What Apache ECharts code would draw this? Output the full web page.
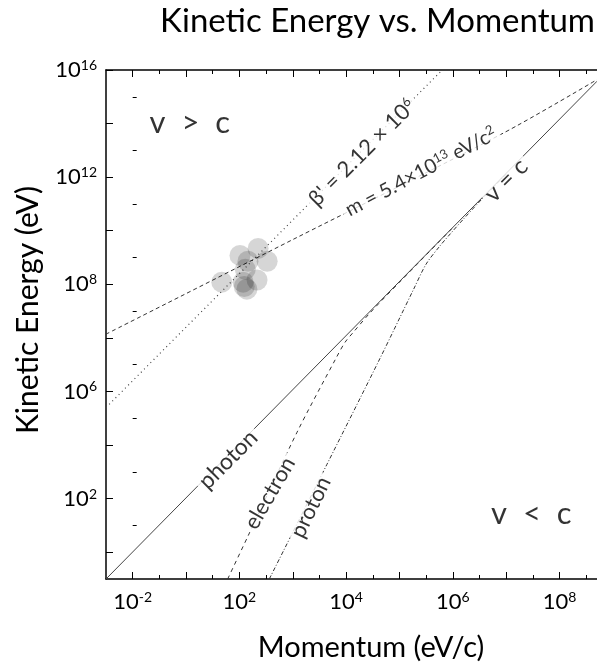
<!DOCTYPE html>
<html><head><meta charset="utf-8">
<script src="https://cdn.jsdelivr.net/npm/echarts@6/dist/echarts.min.js"></script>
<style>html,body{margin:0;padding:0;background:#fff}#c{width:597px;height:665px}</style>
</head><body><div id="c"></div>
<script>
// All coordinates are decades (log10) as drawn on the reference axes
const xTickValues = [0, 2, 4, 6, 8];
const xTickExps = ['-2', '2', '4', '6', '8'];
const yTickValues = [12, 10, 8, 6, 4];
const yTickExps = ['16', '12', '8', '6', '2'];
const xMajorTicks = [0, 1, 2, 3, 4, 5, 6, 7, 8];
const xMinorTicks = [0.5, 1.5, 2.5, 3.5, 4.5, 5.5, 6.5, 7.5, 8.5];
const yMajorTicks = [3, 4, 5, 6, 7, 8, 9, 10, 11, 12];
const yMinorTicks = [3.5, 4.5, 5.5, 6.5, 7.5, 8.5, 9.5, 10.5, 11.5];

const photonLine = [[-0.5, 2.5], [8.7, 11.79]];
const betaLine = [[-0.5, 5.7], [5.8, 12]];
const massLine = [[-0.5, 7.07], [3.01, 8.84], [6.94, 10.82], [8.7, 11.82]];
const electronLine = [[1.78, 2.5], [2.16, 3.3], [3.08, 5.24], [3.82, 6.64], [3.98, 6.92], [4.13, 7.10], [4.45, 7.47], [5.0, 8.04], [6.0, 9.06]];
const protonLine = [[2.56, 2.5], [3.64, 4.64], [4.64, 6.63], [5.26, 7.9], [5.5, 8.38], [5.76, 8.72], [5.95, 8.94], [6.2, 9.22], [6.6, 9.65], [7.0, 10.06]];
const measurements = [[1.67, 8.04], [2.35, 8.67], [2.52, 8.43], [2.01, 8.54], [2.16, 8.43], [2.11, 8.28], [2.07, 8.04], [2.14, 7.91], [2.33, 8.08], [2.09, 7.96]];

const labelTexts = ['photon', 'v = c', 'β\' = 2.12 × 10|6', 'm = 5.4×10|13| eV/c|2', 'electron', 'proton', 'v  >  c', 'v  <  c'];
const labelAnchors = [[1.79, 4.73], [7.0, 9.94], [4.3, 10.46], [5.4, 10.1], [2.57, 4.10], [3.34, 3.84], [1.07, 11.02], [7.47, 3.71]];
const labelAngles = [45, 45, 45, 28, 60, 64, 0, 0];
const labelSizes = [23, 24, 22, 20, 22, 22, 31, 31];

const FONT = 'Lato';
function richFormat(str, i) {
  const parts = str.split('|');
  return parts.map((p, k) => (k % 2 === 0 ? '{t' + i + '|' + p + '}' : '{s|' + p + '}')).join('');
}
const labelRich = {s: {fontSize: 13, fontFamily: FONT, color: '#000', padding: [0, 0, 9, 0]}};
labelSizes.forEach((sz, i) => { labelRich['t' + i] = {fontSize: sz, fontFamily: FONT, color: '#000'}; });

const chart = echarts.init(document.getElementById('c'), null, {renderer: 'canvas'});
const tickRich = {
  b: {fontSize: 22, fontFamily: FONT, color: '#000'},
  s: {fontSize: 14, fontFamily: FONT, color: '#000', padding: [0, 0, 9, 0]}
};
function axisBase(extra) {
  return Object.assign({
    type: 'value', gridIndex: 0,
    splitLine: {show: false},
    axisLine: {show: false}
  }, extra);
}
const xMin = -0.5, xMax = 8.7, yMin = 2.5, yMax = 12;
const tickLine = {color: '#000', width: 1};

const option = {
  animation: false,
  backgroundColor: '#fff',
  grid: {left: 106, top: 70, right: 0, bottom: 86, outerBoundsMode: 'none', containLabel: false},
  xAxis: [
    axisBase({position: 'bottom', min: xMin, max: xMax,
      axisLine: {show: true, onZero: false, lineStyle: {color: '#000', width: 1.5}},
      axisTick: {show: true, inside: true, length: 7, customValues: xMajorTicks, lineStyle: tickLine},
      axisLabel: {show: true, customValues: xTickValues, margin: 11, fontSize: 22, fontFamily: FONT, color: '#000', rich: tickRich,
        formatter: v => '{b|10}{s|' + xTickExps[xTickValues.indexOf(v)] + '}'}}),
    axisBase({position: 'bottom', min: xMin, max: xMax,
      axisTick: {show: true, inside: true, length: 4, customValues: xMinorTicks, lineStyle: tickLine},
      axisLabel: {show: false}}),
    axisBase({position: 'top', min: xMin, max: xMax,
      axisLine: {show: true, onZero: false, lineStyle: {color: '#000', width: 1.5}},
      axisTick: {show: true, inside: true, length: 7, customValues: xMajorTicks, lineStyle: tickLine},
      axisLabel: {show: false}}),
    axisBase({position: 'top', min: xMin, max: xMax,
      axisTick: {show: true, inside: true, length: 4, customValues: xMinorTicks, lineStyle: tickLine},
      axisLabel: {show: false}})
  ],
  yAxis: [
    axisBase({position: 'left', min: yMin, max: yMax,
      axisLine: {show: true, onZero: false, lineStyle: {color: '#000', width: 1.5}},
      axisTick: {show: true, inside: true, length: 7, customValues: yMajorTicks, lineStyle: tickLine},
      axisLabel: {show: true, customValues: yTickValues, margin: 9, fontSize: 22, fontFamily: FONT, color: '#000', rich: tickRich,
        formatter: v => '{b|10}{s|' + yTickExps[yTickValues.indexOf(v)] + '}'}}),
    axisBase({position: 'left', min: yMin, max: yMax,
      axisTick: {show: true, inside: true, length: 4, customValues: yMinorTicks, lineStyle: tickLine},
      axisLabel: {show: false}})
  ],
  series: [
    {type: 'line', z: 2, data: photonLine, showSymbol: false, symbol: 'none', lineStyle: {color: '#444', width: 1}, silent: true},
    {type: 'line', z: 2, data: betaLine, showSymbol: false, symbol: 'none', lineStyle: {color: '#444', width: 1.2, type: [1, 3.5]}, silent: true},
    {type: 'line', z: 2, data: massLine, showSymbol: false, symbol: 'none', smooth: 0.3, lineStyle: {color: '#333', width: 1, type: [4, 3]}, silent: true},
    {type: 'line', z: 2, data: electronLine, showSymbol: false, symbol: 'none', smooth: 0.3, lineStyle: {color: '#333', width: 1, type: [4, 4]}, silent: true},
    {type: 'line', z: 2, data: protonLine, showSymbol: false, symbol: 'none', smooth: 0.3, lineStyle: {color: '#333', width: 1, type: [4, 2, 1, 2]}, silent: true},
    {type: 'scatter', z: 3, data: measurements, symbolSize: 21, itemStyle: {color: 'rgba(0,0,0,0.2)'}, silent: true},
    {type: 'scatter', z: 10, silent: true, symbolSize: 1, itemStyle: {color: 'rgba(0,0,0,0)'},
      label: {show: true, position: 'inside', backgroundColor: '#fff', padding: [1, 4], color: '#000', fontFamily: FONT, fontSize: 22, rich: labelRich},
      data: labelAnchors.map((p, i) => ({
        value: p,
        label: {rotate: labelAngles[i], formatter: richFormat(labelTexts[i], i)}
      }))}
  ],
  graphic: [
    {type: 'text', right: 2, top: 5, style: {text: 'Kinetic Energy vs. Momentum', font: '33px ' + FONT, fill: '#000'}},
    {type: 'text', x: 28, y: 310, rotation: Math.PI / 2, style: {text: 'Kinetic Energy (eV)', font: '30px ' + FONT, fill: '#000', textAlign: 'center', textVerticalAlign: 'middle', align: 'center', verticalAlign: 'middle'}},
    {type: 'text', x: 371, y: 648, style: {text: 'Momentum (eV/c)', font: '29px ' + FONT, fill: '#000', textAlign: 'center', textVerticalAlign: 'middle', align: 'center', verticalAlign: 'middle'}}
  ]
};
chart.setOption(option);
</script></body></html>
